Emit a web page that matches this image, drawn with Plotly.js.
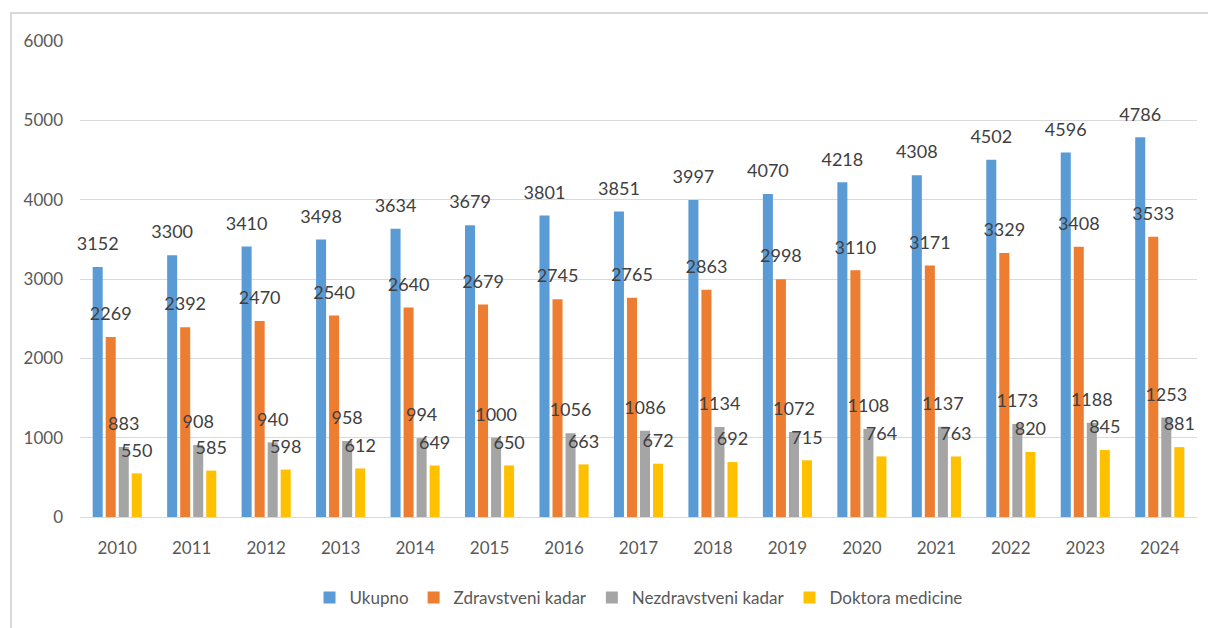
<!DOCTYPE html>
<html>
<head>
<meta charset="utf-8">
<script src="https://cdn.plot.ly/plotly-3.0.1.min.js"></script>
<style>
  html, body { margin: 0; padding: 0; background: #fff; }
  #wrap { position: relative; width: 1208px; height: 628px; overflow: hidden; }
  #chart { position: absolute; left: 0; top: 0; width: 1208px; height: 628px; }
  #frame { position: absolute; left: 10px; top: 12px; width: 1300px; height: 700px;
           border-left: 2px solid #d9d9d9; border-top: 2px solid #d9d9d9; pointer-events: none; }
</style>
</head>
<body>
<div id="wrap">
  <div id="chart"></div>
  <div id="frame"></div>
</div>
<script>
// Staff numbers per year
const years = ['2010','2011','2012','2013','2014','2015','2016','2017','2018','2019','2020','2021','2022','2023','2024'];
const ukupno = [3152, 3300, 3410, 3498, 3634, 3679, 3801, 3851, 3997, 4070, 4218, 4308, 4502, 4596, 4786];
const zdravstveni = [2269, 2392, 2470, 2540, 2640, 2679, 2745, 2765, 2863, 2998, 3110, 3171, 3329, 3408, 3533];
const nezdravstveni = [883, 908, 940, 958, 994, 1000, 1056, 1086, 1134, 1072, 1108, 1137, 1173, 1188, 1253];
const doktori = [550, 585, 598, 612, 649, 650, 663, 672, 692, 715, 764, 763, 820, 845, 881];

const seriesNames = ['Ukupno', 'Zdravstveni kadar', 'Nezdravstveni kadar', 'Doktora medicine'];
const seriesValues = [ukupno, zdravstveni, nezdravstveni, doktori];
const seriesColors = ['#5B9BD5', '#ED7D31', '#A5A5A5', '#FFC000'];

const FONT = 'Lato, "Open Sans", sans-serif';
const GAP = 0.3;

const traces = [];
// Bars
seriesValues.forEach((vals, i) => {
  traces.push({
    type: 'bar',
    name: seriesNames[i],
    x: years,
    y: vals,
    marker: { color: seriesColors[i] },
    hoverinfo: 'skip'
  });
});
// Value labels, grouped the same way as the bars and lifted above each bar top
seriesValues.forEach((vals, i) => {
  traces.push({
    type: 'scatter',
    mode: 'markers+text',
    orientation: 'v',
    x: years,
    y: vals,
    text: vals.map(String),
    textposition: 'top center',
    textfont: { family: FONT, size: 18, color: '#404040' },
    marker: { size: 18, opacity: 0, color: seriesColors[i] },
    showlegend: false,
    hoverinfo: 'skip',
    cliponaxis: false
  });
});

const layout = {
  width: 1208,
  height: 628,
  margin: { l: 80, r: 11, t: 41, b: 111 },
  paper_bgcolor: 'rgba(0,0,0,0)',
  plot_bgcolor: 'rgba(0,0,0,0)',
  barmode: 'group',
  bargap: GAP,
  bargroupgap: 0.23,
  scattermode: 'group',
  scattergap: GAP,
  font: { family: FONT, size: 17, color: '#595959' },
  showlegend: true,
  legend: {
    orientation: 'h',
    x: 0.5, xanchor: 'center',
    y: -0.17, yanchor: 'middle',
    font: { family: FONT, size: 17, color: '#595959' },
    traceorder: 'normal'
  },
  xaxis: {
    type: 'category',
    showgrid: false,
    showline: false,
    ticks: '',
    ticklabelstandoff: 19,
    tickfont: { family: FONT, size: 17, color: '#595959' }
  },
  yaxis: {
    range: [0, 6000],
    tickvals: [0, 1000, 2000, 3000, 4000, 5000, 6000],
    showgrid: true,
    gridcolor: '#d9d9d9',
    gridwidth: 1,
    zeroline: true,
    zerolinecolor: '#d9d9d9',
    zerolinewidth: 1,
    showline: false,
    ticks: '',
    ticklabelstandoff: 16,
    tickfont: { family: FONT, size: 17, color: '#595959' }
  }
};

Plotly.newPlot('chart', traces, layout, { staticPlot: true, displayModeBar: false });
</script>
</body>
</html>
